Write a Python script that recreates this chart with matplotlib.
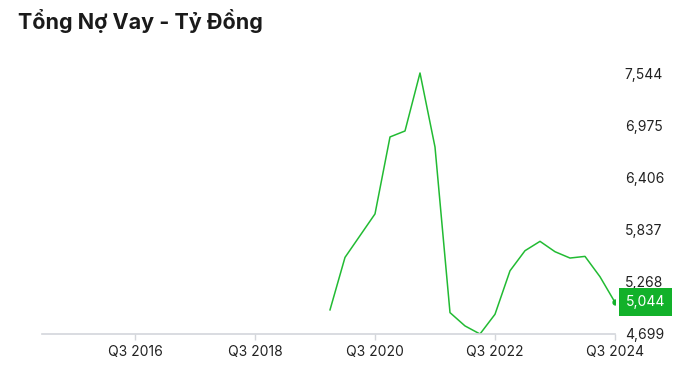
import matplotlib
matplotlib.use("Agg")
import matplotlib.pyplot as plt
from matplotlib.ticker import FixedLocator

plt.rcParams['font.family'] = ['Inter', 'DejaVu Sans']

# Quarter index: 0 = Q1 2015
quarters = [f"Q{q} {y}" for y in range(2015, 2025) for q in range(1, 5)][:39]
first_data_q = "Q4 2019"
values = [4962, 5534, 5771, 6008, 6847, 6912, 7544, 6737, 4932, 4787,
          4699, 4914, 5388, 5607, 5709, 5596, 5527, 5545, 5323, 5044]
x_tick_labels = ["Q3 2016", "Q3 2018", "Q3 2020", "Q3 2022", "Q3 2024"]
y_ticks = [4699, 5268, 5837, 6406, 6975, 7544]
title = "Tổng Nợ Vay - Tỷ Đồng"

line_color = "#22BB33"
box_color = "#12B12A"

start = quarters.index(first_data_q)
xs = list(range(start, start + len(values)))

fig = plt.figure(figsize=(6.9, 3.67), dpi=100)
ax = fig.add_axes([42 / 690, 1 - 334 / 367, (615 - 42) / 690, (334 - 52) / 367])

ax.plot(xs, values, color=line_color, lw=1.1)
ax.plot(xs[-1], values[-1], 'o', color=box_color, ms=3.5)

ax.set_xlim(-0.2, 38)
span = y_ticks[-1] - y_ticks[0]
ax.set_ylim(y_ticks[0], y_ticks[0] + span * (334 - 52) / (334 - 73))

for s in ['top', 'left', 'right']:
    ax.spines[s].set_visible(False)
ax.spines['bottom'].set_color('#D3D6DB')
ax.spines['bottom'].set_linewidth(1.2)

ax.xaxis.set_major_locator(FixedLocator([quarters.index(l) for l in x_tick_labels]))
ax.set_xticklabels(x_tick_labels, fontsize=10, color='#222222')
ax.tick_params(axis='x', length=4, width=1, color='#D3D6DB', pad=4)

ax.yaxis.tick_right()
ax.set_yticks(y_ticks)
ax.set_yticklabels([f"{v:,}" for v in y_ticks], fontsize=10, color='#222222')
ax.tick_params(axis='y', length=0, pad=7)

ax.annotate(f"{values[-1]:,}", xy=(1, values[-1]), xycoords=('axes fraction', 'data'),
            xytext=(8, 0), textcoords='offset points', ha='left', va='center',
            fontsize=10, color='white',
            bbox=dict(boxstyle='square,pad=0.5', fc=box_color, ec='none'))

fig.text(18 / 690, 1 - 21 / 367, title, fontsize=15.5, fontweight='bold',
         color='#1a1a1a', ha='left', va='center')

fig.savefig("out.png", dpi=100)
